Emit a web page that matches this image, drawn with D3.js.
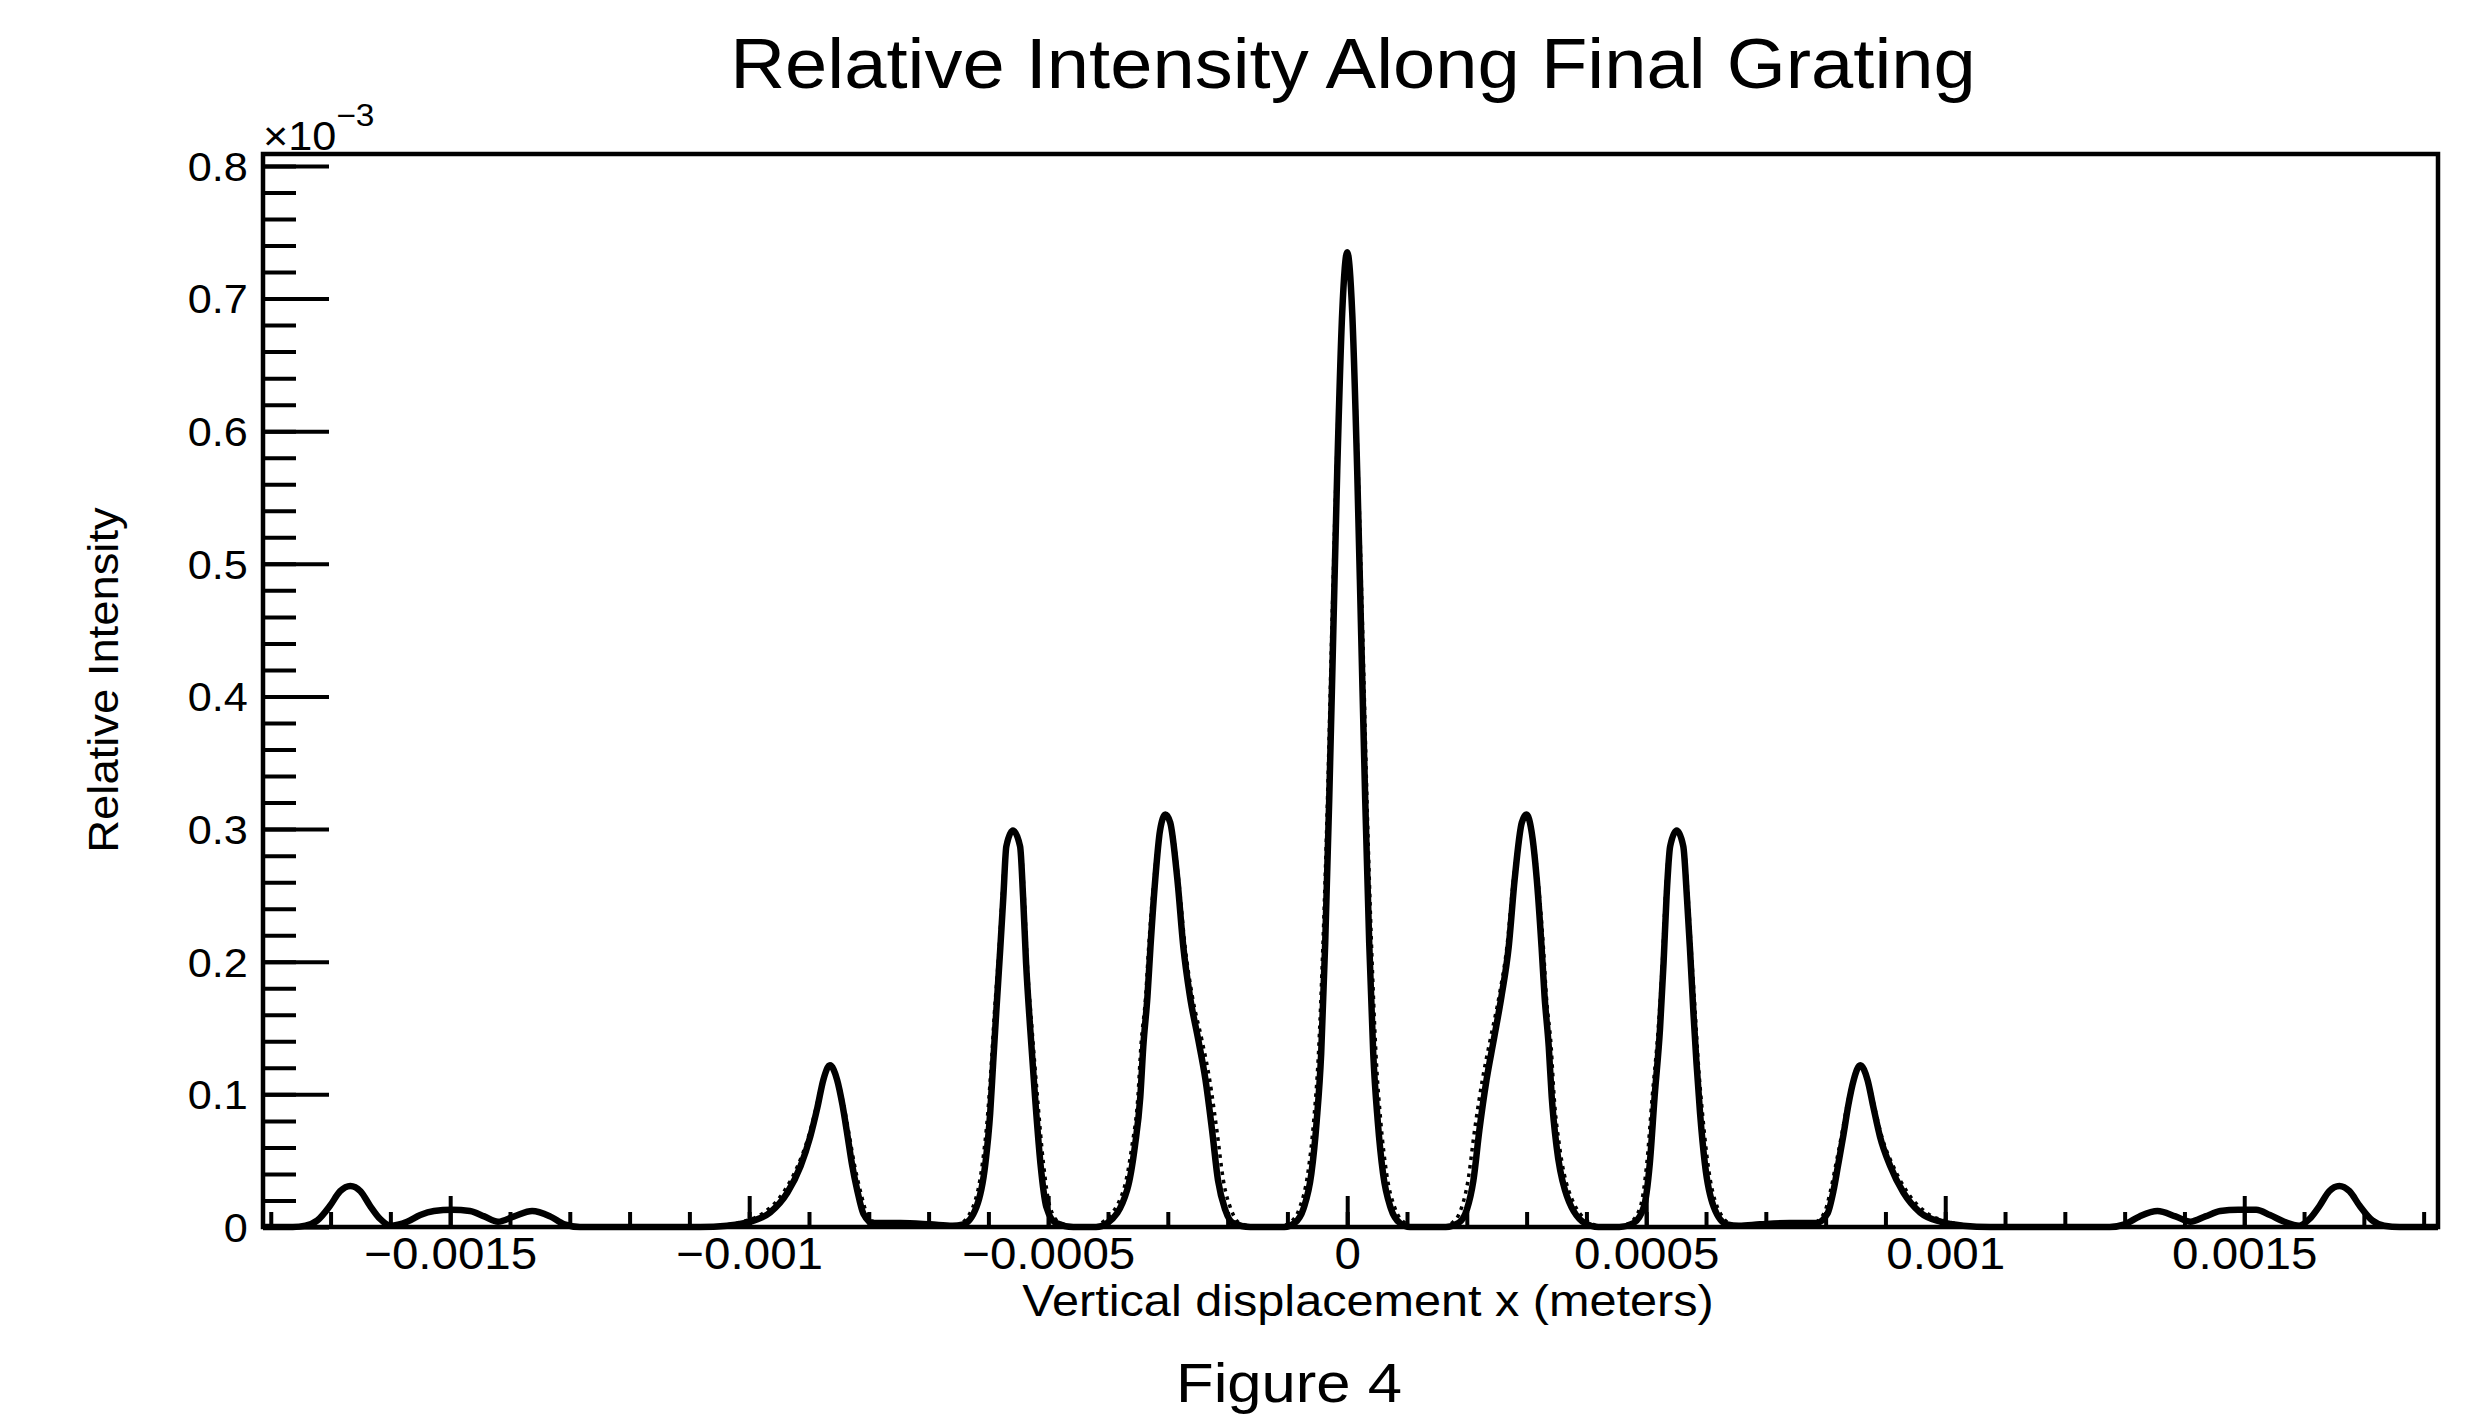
<!DOCTYPE html>
<html>
<head>
<meta charset="utf-8">
<script src="https://cdn.jsdelivr.net/npm/d3@7"></script>
<style>
  body { margin: 0; background: #fff; }
  text { font-family: "Liberation Sans", Arial, Helvetica, sans-serif; fill: #000; }
</style>
</head>
<body>
<script>
// Chart texts
var title = "Relative Intensity Along Final Grating";
var xTitle = "Vertical displacement x (meters)";
var yTitle = "Relative Intensity";
var caption = "Figure 4";

// Axis ticks (x in meters, y in units of 10^-3)
var xTickValues = [-0.0015, -0.001, -0.0005, 0, 0.0005, 0.001, 0.0015];
var xTickLabels = ["\u22120.0015", "\u22120.001", "\u22120.0005", "0", "0.0005", "0.001", "0.0015"];
var yTickValues = [0, 0.1, 0.2, 0.3, 0.4, 0.5, 0.6, 0.7, 0.8];
var yTickLabels = ["0", "0.1", "0.2", "0.3", "0.4", "0.5", "0.6", "0.7", "0.8"];

// Solid curve: [x (m), intensity (x10^-3)]
var solidPts = [
  [-0.001813, 0], [-0.001763, 0], [-0.001742, 0.001], [-0.001722, 0.005], [-0.001701, 0.016],
  [-0.001684, 0.027], [-0.001667, 0.031], [-0.001650, 0.027], [-0.001634, 0.016], [-0.001617, 0.006],
  [-0.001600, 0.001], [-0.001572, 0.004], [-0.001550, 0.009], [-0.001527, 0.012], [-0.001497, 0.013],
  [-0.001467, 0.012], [-0.001443, 0.008], [-0.001420, 0.004], [-0.001393, 0.008], [-0.001363, 0.012],
  [-0.001333, 0.008], [-0.001309, 0.002], [-0.001283, 0],
  [-0.001082, 0], [-0.001037, 0.001], [-0.000998, 0.004], [-0.000965, 0.011], [-0.000936, 0.026],
  [-0.000914, 0.046], [-0.000898, 0.068], [-0.000886, 0.090], [-0.000876, 0.111], [-0.000865, 0.122],
  [-0.000853, 0.111], [-0.000844, 0.092], [-0.000836, 0.070], [-0.000828, 0.047], [-0.000819, 0.027],
  [-0.000809, 0.010], [-0.000793, 0.003], [-0.000747, 0.003], [-0.000697, 0.002], [-0.000660, 0.001],
  [-0.000642, 0.002], [-0.000620, 0.015], [-0.000605, 0.048], [-0.000597, 0.086], [-0.000592, 0.124],
  [-0.000587, 0.161], [-0.000580, 0.211], [-0.000575, 0.249], [-0.000570, 0.287], [-0.000559, 0.299],
  [-0.000547, 0.287], [-0.000542, 0.249], [-0.000537, 0.199], [-0.000530, 0.149], [-0.000522, 0.098],
  [-0.000513, 0.048], [-0.000503, 0.015], [-0.000487, 0.003], [-0.000458, 0], [-0.000420, 0],
  [-0.000401, 0.003], [-0.000368, 0.028], [-0.000355, 0.061], [-0.000346, 0.098], [-0.000341, 0.136],
  [-0.000334, 0.174], [-0.000329, 0.211], [-0.000321, 0.262], [-0.000313, 0.299], [-0.000304, 0.311],
  [-0.000296, 0.305], [-0.000284, 0.262], [-0.000274, 0.211], [-0.000263, 0.174], [-0.000249, 0.141],
  [-0.000237, 0.111], [-0.000226, 0.073], [-0.000216, 0.035], [-0.000204, 0.013], [-0.000191, 0.003],
  [-0.000162, 0], [-0.000105, 0],
  [-0.0000880, 0.003], [-0.0000730, 0.014], [-0.0000600, 0.040], [-0.0000510, 0.080], [-0.0000435, 0.131],
  [-0.0000368, 0.214], [-0.0000301, 0.322], [-0.0000234, 0.446], [-0.0000167, 0.570], [-0.0000084, 0.689],
  [0, 0.735],
  [0.0000084, 0.689], [0.0000167, 0.570], [0.0000234, 0.446], [0.0000301, 0.322], [0.0000368, 0.214],
  [0.0000435, 0.131], [0.0000510, 0.080], [0.0000600, 0.040], [0.0000730, 0.014], [0.0000880, 0.003],
  [0.000105, 0], [0.000165, 0],
  [0.000186, 0.003], [0.000200, 0.013], [0.000211, 0.035], [0.000221, 0.073], [0.000233, 0.111],
  [0.000245, 0.141], [0.000258, 0.174], [0.000270, 0.211], [0.000280, 0.262], [0.000292, 0.305],
  [0.000300, 0.311], [0.000308, 0.299], [0.000317, 0.262], [0.000325, 0.211], [0.000330, 0.174],
  [0.000337, 0.136], [0.000342, 0.098], [0.000350, 0.061], [0.000364, 0.028], [0.000397, 0.003],
  [0.000420, 0], [0.000455, 0],
  [0.000479, 0.003], [0.000496, 0.015], [0.000506, 0.048], [0.000514, 0.098], [0.000523, 0.149],
  [0.000529, 0.199], [0.000534, 0.249], [0.000540, 0.287], [0.000551, 0.299], [0.000562, 0.287],
  [0.000568, 0.249], [0.000573, 0.211], [0.000579, 0.161], [0.000584, 0.124], [0.000590, 0.086],
  [0.000598, 0.048], [0.000613, 0.015], [0.000635, 0.002], [0.000655, 0.001], [0.000690, 0.002],
  [0.000740, 0.003], [0.000785, 0.003],
  [0.000803, 0.010], [0.000813, 0.027], [0.000821, 0.047], [0.000830, 0.070], [0.000838, 0.092],
  [0.000847, 0.111], [0.000858, 0.122], [0.000870, 0.111], [0.000880, 0.090], [0.000891, 0.068],
  [0.000908, 0.046], [0.000930, 0.026], [0.000958, 0.011], [0.000992, 0.004], [0.001030, 0.001],
  [0.001075, 0], [0.001275, 0],
  [0.001300, 0.002], [0.001325, 0.008], [0.001355, 0.012], [0.001385, 0.008], [0.001410, 0.004],
  [0.001435, 0.008], [0.001460, 0.012], [0.001490, 0.013], [0.001520, 0.013], [0.001543, 0.009],
  [0.001567, 0.004], [0.001592, 0.001], [0.001609, 0.006], [0.001626, 0.016], [0.001642, 0.027],
  [0.001659, 0.031], [0.001676, 0.027], [0.001693, 0.016], [0.001714, 0.005], [0.001734, 0.001],
  [0.001760, 0], [0.001824, 0]
];

// Dotted curve: slightly wider peaks than the solid one
var dottedPts = [
  [-0.001813, 0], [-0.001763, 0], [-0.001742, 0.001], [-0.001722, 0.005], [-0.001701, 0.016],
  [-0.001684, 0.027], [-0.001667, 0.031], [-0.001650, 0.027], [-0.001634, 0.016], [-0.001617, 0.006],
  [-0.001600, 0.001], [-0.001572, 0.004], [-0.001550, 0.009], [-0.001527, 0.012], [-0.001497, 0.013],
  [-0.001467, 0.012], [-0.001443, 0.008], [-0.001420, 0.004], [-0.001393, 0.008], [-0.001363, 0.012],
  [-0.001333, 0.008], [-0.001309, 0.002], [-0.001283, 0],
  [-0.001104, 0], [-0.001054, 0.001], [-0.001011, 0.004], [-0.000975, 0.011], [-0.000943, 0.026],
  [-0.000919, 0.046], [-0.000901, 0.068], [-0.000888, 0.090], [-0.000877, 0.111], [-0.000865, 0.122],
  [-0.000852, 0.111], [-0.000842, 0.092], [-0.000833, 0.070], [-0.000824, 0.047], [-0.000814, 0.027],
  [-0.000803, 0.010], [-0.000786, 0.003], [-0.000747, 0.003], [-0.000697, 0.002], [-0.000665, 0.001],
  [-0.000650, 0.002], [-0.000626, 0.015], [-0.000610, 0.048], [-0.000601, 0.086], [-0.000595, 0.124],
  [-0.000590, 0.161], [-0.000582, 0.211], [-0.000577, 0.249], [-0.000571, 0.287], [-0.000559, 0.299],
  [-0.000546, 0.287], [-0.000540, 0.249], [-0.000535, 0.199], [-0.000527, 0.149], [-0.000518, 0.098],
  [-0.000508, 0.048], [-0.000497, 0.015], [-0.000480, 0.003], [-0.000448, 0], [-0.000425, 0],
  [-0.000411, 0.003], [-0.000374, 0.028], [-0.000360, 0.061], [-0.000350, 0.098], [-0.000345, 0.136],
  [-0.000337, 0.174], [-0.000332, 0.211], [-0.000323, 0.262], [-0.000314, 0.299], [-0.000304, 0.311],
  [-0.000295, 0.305], [-0.000282, 0.262], [-0.000271, 0.211], [-0.000259, 0.174], [-0.000243, 0.141],
  [-0.000230, 0.111], [-0.000218, 0.073], [-0.000207, 0.035], [-0.000194, 0.013], [-0.000180, 0.003],
  [-0.000148, 0], [-0.000115, 0],
  [-0.000097, 0.003], [-0.000080, 0.014], [-0.000066, 0.040], [-0.000056, 0.080], [-0.000048, 0.131],
  [-0.0000405, 0.214], [-0.000033, 0.322], [-0.000026, 0.446], [-0.0000184, 0.570], [-0.0000092, 0.689],
  [0, 0.735],
  [0.0000092, 0.689], [0.0000184, 0.570], [0.000026, 0.446], [0.000033, 0.322], [0.0000405, 0.214],
  [0.000048, 0.131], [0.000056, 0.080], [0.000066, 0.040], [0.000080, 0.014], [0.000097, 0.003],
  [0.000115, 0], [0.000160, 0],
  [0.000175, 0.003], [0.000190, 0.013], [0.000202, 0.035], [0.000213, 0.073], [0.000226, 0.111],
  [0.000239, 0.141], [0.000254, 0.174], [0.000267, 0.211], [0.000278, 0.262], [0.000291, 0.305],
  [0.000300, 0.311], [0.000309, 0.299], [0.000319, 0.262], [0.000328, 0.211], [0.000333, 0.174],
  [0.000341, 0.136], [0.000346, 0.098], [0.000355, 0.061], [0.000370, 0.028], [0.000407, 0.003],
  [0.000430, 0], [0.000450, 0],
  [0.000472, 0.003], [0.000490, 0.015], [0.000501, 0.048], [0.000510, 0.098], [0.000520, 0.149],
  [0.000527, 0.199], [0.000532, 0.249], [0.000539, 0.287], [0.000551, 0.299], [0.000563, 0.287],
  [0.000570, 0.249], [0.000575, 0.211], [0.000582, 0.161], [0.000587, 0.124], [0.000594, 0.086],
  [0.000603, 0.048], [0.000619, 0.015], [0.000643, 0.002], [0.000660, 0.001], [0.000690, 0.002],
  [0.000740, 0.003], [0.000778, 0.003],
  [0.000797, 0.010], [0.000808, 0.027], [0.000817, 0.047], [0.000827, 0.070], [0.000836, 0.092],
  [0.000846, 0.111], [0.000858, 0.122], [0.000871, 0.111], [0.000882, 0.090], [0.000894, 0.068],
  [0.000913, 0.046], [0.000937, 0.026], [0.000968, 0.011], [0.001005, 0.004], [0.001047, 0.001],
  [0.001097, 0], [0.001275, 0],
  [0.001300, 0.002], [0.001325, 0.008], [0.001355, 0.012], [0.001385, 0.008], [0.001410, 0.004],
  [0.001435, 0.008], [0.001460, 0.012], [0.001490, 0.013], [0.001520, 0.013], [0.001543, 0.009],
  [0.001567, 0.004], [0.001592, 0.001], [0.001609, 0.006], [0.001626, 0.016], [0.001642, 0.027],
  [0.001659, 0.031], [0.001676, 0.027], [0.001693, 0.016], [0.001714, 0.005], [0.001734, 0.001],
  [0.001760, 0], [0.001824, 0]
];

// Size of the page and of the plot frame
var width = 2472,
    height = 1418;
var frame = { left: 263, right: 2438, top: 154, bottom: 1227 };

// Glyphs of the original are a little wider than Liberation Sans
var stretch = " scale(1.08,1)";

var svg = d3.select("body")
    .append("svg")
    .attr("width", width)
    .attr("height", height);

// Scales
var x = d3.scaleLinear()
    .domain([-0.001813, 0.001824])
    .range([frame.left, frame.right]);

var y = d3.scaleLinear()
    .domain([0, 0.809])
    .range([frame.bottom, frame.top]);

// Minor ticks: every 0.0001 m on x, every 0.02 on y
var xMinor = d3.range(-18, 19).map(function(i) { return i / 10000; });
var yMinor = d3.range(0, 41).map(function(i) { return i / 50; });

function styleAxis(g, w) {
    g.select(".domain").remove();
    g.attr("font-family", null).attr("font-size", null);
    g.selectAll("line").attr("stroke", "#000").attr("stroke-width", w);
}

// x axis: ticks pointing up into the frame
svg.append("g")
    .attr("transform", "translate(0," + frame.bottom + ")")
    .call(d3.axisBottom(x).tickValues(xMinor).tickSize(-15).tickFormat(""))
    .call(styleAxis, 4);

var xAxis = svg.append("g")
    .attr("transform", "translate(0," + frame.bottom + ")")
    .call(d3.axisBottom(x).tickValues(xTickValues).tickSize(-31)
        .tickFormat(function(d, i) { return xTickLabels[i]; }))
    .call(styleAxis, 4);

xAxis.selectAll("text")
    .attr("y", 42)
    .attr("dy", null)
    .attr("font-size", 44)
    .attr("transform", stretch.trim());

// y axis: ticks pointing right into the frame
svg.append("g")
    .attr("transform", "translate(" + frame.left + ",0)")
    .call(d3.axisLeft(y).tickValues(yMinor).tickSize(-33).tickFormat(""))
    .call(styleAxis, 4);

var yAxis = svg.append("g")
    .attr("transform", "translate(" + frame.left + ",0)")
    .call(d3.axisLeft(y).tickValues(yTickValues).tickSize(-66)
        .tickFormat(function(d, i) { return yTickLabels[i]; }))
    .call(styleAxis, 4);

yAxis.selectAll("text")
    .attr("x", -14)
    .attr("dy", "0.36em")
    .attr("font-size", 40)
    .attr("transform", stretch.trim());

// Frame
svg.append("rect")
    .attr("x", frame.left)
    .attr("y", frame.top)
    .attr("width", frame.right - frame.left)
    .attr("height", frame.bottom - frame.top)
    .attr("fill", "none")
    .attr("stroke", "#000")
    .attr("stroke-width", 4.5);

// Exponent marker of the y axis
var expo = svg.append("text")
    .attr("transform", "translate(" + frame.left + ",150)" + stretch)
    .attr("font-size", 40);
expo.append("tspan").text("\u00d710");
expo.append("tspan")
    .attr("font-size", 31)
    .attr("dy", -24)
    .text("\u22123");

// Curves
var line = d3.line()
    .x(function(d) { return x(d[0]); })
    .y(function(d) { return y(d[1]); })
    .curve(d3.curveMonotoneX);

svg.append("path")
    .datum(dottedPts)
    .attr("fill", "none")
    .attr("stroke", "#000")
    .attr("stroke-width", 3.5)
    .attr("stroke-dasharray", "3.5,5")
    .attr("d", line);

svg.append("path")
    .datum(solidPts)
    .attr("fill", "none")
    .attr("stroke", "#000")
    .attr("stroke-width", 6.5)
    .attr("stroke-linejoin", "round")
    .attr("d", line);

// Titles
svg.append("text")
    .attr("transform", "translate(1353,88) scale(1.07,1)")
    .attr("text-anchor", "middle")
    .attr("font-size", 71)
    .text(title);

svg.append("text")
    .attr("transform", "translate(1368,1316)" + stretch)
    .attr("text-anchor", "middle")
    .attr("font-size", 45)
    .text(xTitle);

svg.append("text")
    .attr("transform", "translate(118,680) rotate(-90)" + stretch)
    .attr("text-anchor", "middle")
    .attr("font-size", 42)
    .text(yTitle);

svg.append("text")
    .attr("transform", "translate(1289,1402) scale(1.1,1)")
    .attr("text-anchor", "middle")
    .attr("font-size", 56)
    .text(caption);
</script>
</body>
</html>
